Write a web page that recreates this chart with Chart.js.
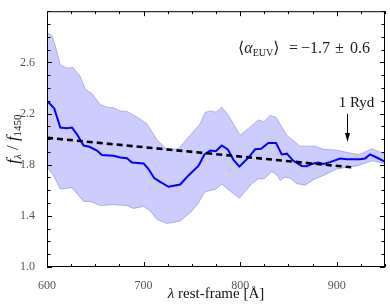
<!DOCTYPE html>
<html>
<head>
<meta charset="utf-8">
<script src="https://cdn.jsdelivr.net/npm/chart.js@4.4.1/dist/chart.umd.min.js"></script>
<style>
  html, body { margin: 0; padding: 0; background: #fff; }
  #wrap { width: 390px; height: 307px; position: relative; }
</style>
</head>
<body>
<div id="wrap"><canvas id="euv-stack"></canvas></div>
<script>
// Mean stacked spectrum (blue line)
const meanLambda = [600, 607.5, 613.8, 620, 625.9, 631.7, 637.9, 644, 651.7, 656.9, 668.9, 675.8, 682.8, 688,
  700, 705.1, 711, 717.2, 725.8, 737.9, 746.5, 756.8, 763, 769, 774.8, 781, 787.2, 793, 799.2, 808.6, 815.5,
  821.7, 829.2, 837.2, 843.1, 848.3, 855.1, 863.8, 869, 875.8, 881, 886.2, 893.1, 903.4, 910.4, 924.1, 929.3,
  934.5, 941.4, 948.2, 950];
const meanFlux = [2.30, 2.24, 2.09, 2.085, 2.09, 2.03, 1.95, 1.94, 1.91, 1.876, 1.869, 1.856, 1.85, 1.817,
  1.81, 1.766, 1.696, 1.665, 1.627, 1.645, 1.716, 1.79, 1.88, 1.91, 1.905, 1.95, 1.92, 1.84, 1.785, 1.856, 1.92,
  1.924, 1.97, 1.97, 1.88, 1.886, 1.83, 1.79, 1.787, 1.81, 1.817, 1.805, 1.82, 1.848, 1.843, 1.843, 1.848,
  1.88, 1.856, 1.83, 1.825];

// Upper edge of the shaded region
const upperLambda = [600, 605.2, 608.6, 613.8, 620.7, 626.9, 634.4, 639.6, 646.6, 655.1, 662.1, 668.9, 675.8,
  682.8, 693.1, 703.5, 713.8, 724.1, 736.1, 748.2, 758.6, 763.8, 769.7, 775.1, 781, 787.9, 800, 808.6, 818.9,
  824.8, 831, 837.2, 848.3, 862, 877.5, 886.2, 900, 912, 922.4, 927.6, 936.2, 944.8, 950];
const upperFlux = [2.833, 2.808, 2.73, 2.58, 2.555, 2.56, 2.49, 2.39, 2.356, 2.27, 2.25, 2.245, 2.22, 2.216,
  2.173, 2.12, 1.995, 1.92, 1.924, 2.03, 2.12, 2.21, 2.22, 2.21, 2.25, 2.186, 2.03, 2.084, 2.15, 2.135, 2.186,
  2.17, 2.03, 1.945, 1.945, 1.92, 1.914, 1.894, 1.88, 1.894, 1.924, 1.9, 1.88];

// Lower edge of the shaded region
const lowerLambda = [600, 606.8, 613.8, 625.9, 637.9, 644.8, 655.1, 668.9, 682.8, 689.6, 700, 706.9, 713.8,
  724.1, 737.9, 750, 756.8, 763, 769, 774.8, 781, 789.6, 799.2, 812.1, 818.9, 824.8, 832.8, 838.6, 841.4, 846.5,
  851.7, 858.6, 867.2, 877.5, 886.2, 900, 910.4, 920.7, 932.7, 937.2, 944.8, 950];
const lowerFlux = [1.78, 1.716, 1.61, 1.62, 1.513, 1.513, 1.48, 1.488, 1.48, 1.457, 1.475, 1.437, 1.373,
  1.34, 1.36, 1.437, 1.5, 1.584, 1.6, 1.607, 1.648, 1.594, 1.538, 1.652, 1.69, 1.69, 1.747, 1.716, 1.678, 1.703,
  1.696, 1.652, 1.64, 1.69, 1.716, 1.766, 1.78, 1.79, 1.82, 1.83, 1.817, 1.805];

// Power-law fit (dashed)
const fitLambda = [600, 915];
const fitFlux = [2.01, 1.78];

// Axes
const xTickValues = [600, 700, 800, 900];
const yTickValues = [1.0, 1.4, 1.8, 2.2, 2.6];
const xMinorStep = 25;
const yMinorStep = 0.1;

// 1 Ryd marker
const rydLambda = 911;
const rydArrowFlux = [2.198, 1.977];

const pts = (xs, ys) => xs.map((x, i) => ({ x: x, y: ys[i] }));

const SERIF = '"Liberation Serif", "DejaVu Serif", serif';

// draw a run of text pieces (for subscripts), returns total width
function textRuns(ctx, runs, x, y, align) {
  let w = 0;
  runs.forEach(r => { ctx.font = r.font; w += ctx.measureText(r.t).width; });
  let cx = align === 'center' ? x - w / 2 : x;
  ctx.textAlign = 'left';
  ctx.textBaseline = 'alphabetic';
  runs.forEach(r => {
    ctx.font = r.font;
    ctx.fillText(r.t, cx, y + (r.dy || 0));
    cx += ctx.measureText(r.t).width;
  });
  return w;
}

const framePlugin = {
  id: 'frame',
  afterDraw(chart) {
    const { ctx, chartArea: a, scales: { x, y } } = chart;
    ctx.save();
    ctx.strokeStyle = '#000';
    ctx.lineWidth = 1;
    ctx.strokeRect(a.left + 0.5, a.top + 0.5, a.right - a.left - 1, a.bottom - a.top - 1);

    // inward ticks on all four sides
    ctx.beginPath();
    for (let v = x.min; v <= x.max + 1e-6; v += xMinorStep) {
      const px = Math.round(x.getPixelForValue(v)) + 0.5;
      const len = xTickValues.includes(v) ? 5 : 3;
      ctx.moveTo(px, a.bottom); ctx.lineTo(px, a.bottom - len);
      ctx.moveTo(px, a.top); ctx.lineTo(px, a.top + len);
    }
    for (let i = 0; i * yMinorStep <= (y.max - y.min) + 1e-6; i++) {
      const v = y.min + i * yMinorStep;
      const py = Math.round(y.getPixelForValue(v)) + 0.5;
      const major = yTickValues.some(t => Math.abs(t - v) < 1e-6);
      const len = major ? 5 : 3.5;
      ctx.moveTo(a.left, py); ctx.lineTo(a.left + len, py);
      ctx.moveTo(a.right, py); ctx.lineTo(a.right - len, py);
    }
    ctx.stroke();

    ctx.fillStyle = '#111';
    // x title
    textRuns(ctx, [
      { t: 'λ', font: 'italic 15px ' + SERIF },
      { t: ' rest-frame [Å]', font: '15px ' + SERIF },
    ], (a.left + a.right) / 2, 298, 'center');

    // y title, rotated
    ctx.save();
    ctx.translate(13, (a.top + a.bottom) / 2);
    ctx.rotate(-Math.PI / 2);
    textRuns(ctx, [
      { t: 'f', font: 'italic 17px ' + SERIF },
      { t: 'λ', font: 'italic 11px ' + SERIF, dy: 3 },
      { t: ' / ', font: '17px ' + SERIF },
      { t: 'f', font: 'italic 17px ' + SERIF },
      { t: '1450', font: '11px ' + SERIF, dy: 3 },
    ], 0, 5, 'center');
    ctx.restore();

    // annotation, pieces spaced like TeX
    ctx.fillStyle = '#222';
    textRuns(ctx, [
      { t: '⟨', font: '16px "DejaVu Serif", serif' },
      { t: 'α', font: 'italic 16px ' + SERIF },
      { t: 'EUV', font: '10px ' + SERIF, dy: 3 },
      { t: '⟩', font: '16px "DejaVu Serif", serif' },
    ], 238, 53, 'left');
    ctx.font = '16px ' + SERIF;
    ctx.fillText('=', 289, 53);
    ctx.fillText('−1.7', 301, 53);
    ctx.fillText('±', 335, 53);
    ctx.fillText('0.6', 350, 53);

    // 1 Ryd label + arrow
    const rx = Math.round(x.getPixelForValue(rydLambda)) + 0.5;
    const y0 = y.getPixelForValue(rydArrowFlux[0]);
    const y1 = y.getPixelForValue(rydArrowFlux[1]);
    ctx.fillStyle = '#111';
    ctx.font = '15px ' + SERIF;
    ctx.textAlign = 'center';
    ctx.fillText('1 Ryd', rx + 9, 107);
    ctx.strokeStyle = '#000';
    ctx.lineWidth = 1;
    ctx.beginPath();
    ctx.moveTo(rx, y0); ctx.lineTo(rx, y1 - 8);
    ctx.stroke();
    ctx.beginPath();
    ctx.moveTo(rx - 2.5, y1 - 9); ctx.lineTo(rx + 2.5, y1 - 9); ctx.lineTo(rx, y1);
    ctx.closePath();
    ctx.fillStyle = '#000';
    ctx.fill();
    ctx.restore();
  },
};

new Chart(document.getElementById('euv-stack'), {
  type: 'line',
  data: {
    datasets: [
      {
        data: pts(fitLambda, fitFlux),
        borderColor: '#000',
        borderWidth: 2.6,
        borderDash: [6, 4],
        pointRadius: 0,
        fill: false,
        order: 0,
      },
      {
        data: pts(meanLambda, meanFlux),
        borderColor: '#0000ff',
        borderWidth: 2,
        pointRadius: 0,
        tension: 0,
        fill: false,
        order: 1,
      },
      {
        data: pts(upperLambda, upperFlux),
        borderColor: 'rgba(120,120,190,0.6)',
        borderWidth: 0.8,
        backgroundColor: 'rgba(0,0,255,0.2)',
        pointRadius: 0,
        tension: 0,
        fill: '+1',
        order: 2,
      },
      {
        data: pts(lowerLambda, lowerFlux),
        borderColor: 'rgba(120,120,190,0.6)',
        borderWidth: 0.8,
        pointRadius: 0,
        tension: 0,
        fill: false,
        order: 3,
      },
    ],
  },
  options: {
    responsive: true,
    maintainAspectRatio: false,
    animation: false,
    layout: { padding: { top: 5, right: 5, left: 0, bottom: 0 } },
    scales: {
      x: {
        type: 'linear',
        min: 600,
        max: 950,
        grid: { display: false },
        border: { display: false },
        afterBuildTicks: (scale) => { scale.ticks = xTickValues.map(v => ({ value: v })); },
        afterFit: (scale) => { scale.height = 40; },
        ticks: {
          padding: 4,
          color: '#555',
          font: { family: SERIF, size: 12 },
          maxRotation: 0,
          callback: (v) => String(v),
        },
      },
      y: {
        min: 1.0,
        max: 3.0,
        grid: { display: false },
        border: { display: false },
        afterBuildTicks: (scale) => { scale.ticks = yTickValues.map(v => ({ value: v })); },
        afterFit: (scale) => { scale.width = 47; },
        ticks: {
          padding: 4,
          color: '#555',
          font: { family: SERIF, size: 12 },
          callback: (v) => Number(v).toFixed(1),
        },
      },
    },
    plugins: {
      legend: { display: false },
      tooltip: { enabled: false },
    },
  },
  plugins: [framePlugin],
});
</script>
</body>
</html>
